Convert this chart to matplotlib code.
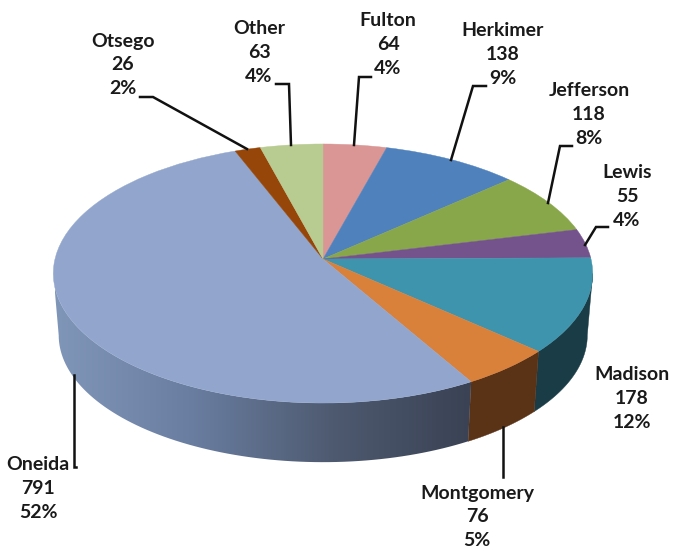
import numpy as np
import matplotlib
matplotlib.use('Agg')
import matplotlib.pyplot as plt
from matplotlib.colors import LinearSegmentedColormap
from matplotlib.patches import Polygon
from matplotlib.transforms import Transform

names = ['Fulton', 'Herkimer', 'Jefferson', 'Lewis', 'Madison', 'Montgomery', 'Oneida', 'Otsego', 'Other']
values = [64, 138, 118, 55, 178, 76, 791, 26, 63]
percents = ['4%', '9%', '8%', '4%', '12%', '5%', '52%', '2%', '4%']
colors = ['#D99694', '#4F81BD', '#88A64A', '#74538D', '#3E94AC', '#D9803A', '#92A6CD', '#964608', '#B8CB90']
wall_colors = {'Montgomery': '#5A3216', 'Madison': '#1A3C46'}
oneida_wall = ['#8096B9', '#697DA0', '#4E5A70', '#3A4254']

# label centres and leader lines, in pixels of the picture
label_pos = [(388, 45), (503, 54), (589, 115), (627, 196), (632, 398), (477, 517), (38, 488), (123, 65), (259, 52)]
leaders = [
    [(371, 77), (359, 77), (354, 145)],
    [(486, 86), (473, 86), (451, 160)],
    [(572, 146), (560, 146), (548, 203)],
    [(608, 227), (596, 227), (585, 245)],
    [(503, 427), (503, 477)],
    [(76, 467), (74, 467), (74, 375)],
    [(140, 97), (153, 97), (247, 149)],
    [(276, 84), (289, 84), (291, 145)],
]

cx, cy = 323, 259
rx, ry, c = 268, 127.9, 0.112
depth = 62
shrink = 0.98


class Tilt(Transform):
    # unit circle to the tilted disc, near side bigger
    input_dims = 2
    output_dims = 2

    def transform_non_affine(self, xy):
        xy = np.asarray(xy, dtype=float)
        d = 1 + c * xy[:, 1]
        return np.column_stack([cx + rx * xy[:, 0] / d, cy - ry * xy[:, 1] / d])


tilt = Tilt()


def wall_outline(t1, t2):
    t = np.radians(np.linspace(t1, t2, 80))
    top = tilt.transform_non_affine(np.column_stack([np.cos(t), np.sin(t)]))
    low = top.copy()
    low[:, 0] = cx + (top[:, 0] - cx) * shrink
    low[:, 1] = cy + (top[:, 1] - cy) * shrink + depth
    return np.vstack([top, low[::-1]])


fig = plt.figure(figsize=(6.73, 5.5), dpi=100)
ax = fig.add_axes([0, 0, 1, 1])

wedges, _ = ax.pie(values, colors=colors, startangle=90, counterclock=False,
                   wedgeprops={'linewidth': 0.3})
for w, col in zip(wedges, colors):
    w.set_transform(tilt + ax.transData)
    w.set_edgecolor(col)
    w.set_zorder(3)

# side wall, only the part facing us
vis1, vis2 = -173.6, -6.4
for w, name in zip(wedges, names):
    t1 = max(w.theta1, vis1)
    t2 = min(w.theta2, vis2)
    if t1 >= t2:
        continue
    pts = wall_outline(t1, t2)
    if name == 'Oneida':
        cmap = LinearSegmentedColormap.from_list('wall', oneida_wall)
        im = ax.imshow(np.linspace(0, 1, 256).reshape(1, -1), cmap=cmap, aspect='auto',
                       extent=(55, 472, 480, 260), zorder=2)
        im.set_clip_path(Polygon(pts, transform=ax.transData))
    else:
        ax.fill(pts[:, 0], pts[:, 1], color=wall_colors[name], lw=0.3, zorder=2)

for line in leaders:
    xs, ys = zip(*line)
    ax.plot(xs, ys, color='#111111', lw=1.8, zorder=4, solid_joinstyle='miter')

for name, v, p, (x, y) in zip(names, values, percents, label_pos):
    ax.text(x, y, f'{name}\n{v}\n{p}', ha='center', va='center', fontsize=14,
            fontweight='bold', family='Lato', color='#1a1a1a', linespacing=1.5, zorder=5)

ax.set_aspect('auto')
ax.set_xlim(0, 673)
ax.set_ylim(550, 0)
ax.axis('off')
fig.savefig('out.png', dpi=100)
